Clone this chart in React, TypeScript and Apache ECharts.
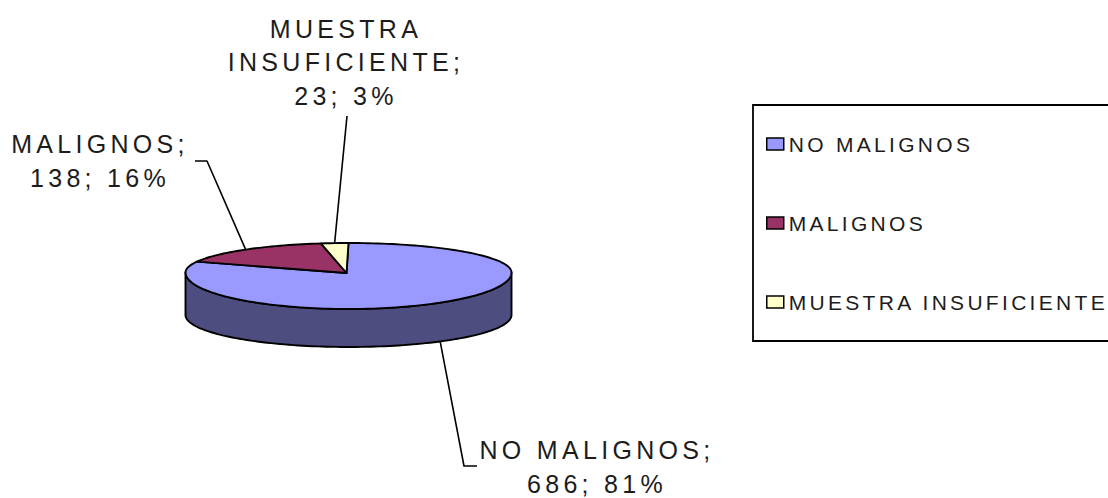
import React, { useEffect, useRef } from "react";
import * as echarts from "echarts";

// Biopsy results shown as a tilted pie with a thick rim.
const categories = ["NO MALIGNOS", "MALIGNOS", "MUESTRA INSUFICIENTE"];
const counts = [686, 138, 23];
const labelHeads = [["NO MALIGNOS;"], ["MALIGNOS;"], ["MUESTRA", "INSUFICIENTE;"]];
const sliceColors = ["#9999ff", "#993366", "#ffffcc"];
const rimColor = "#4d4d80";

const FONT = '"Liberation Sans", Arial, sans-serif';
const INK = "#1c1c1c";
const total = counts.reduce((a, b) => a + b, 0);

// Pie geometry: the upper half of the disc is flatter than the lower half (perspective).
const CX = 348.5;
const RX = 163;
const TOP_Y = 272.5;
const RY_BACK = 29.5;
const RY_FRONT = 36.5;
const RIM_Y = 315;
const RIM_RY = 32;
const APEX: [number, number] = [346.5, 273];

const topPoint = (a: number): [number, number] => {
  const c = Math.cos(a);
  return [CX + RX * Math.sin(a), TOP_Y - c * (c > 0 ? RY_BACK : RY_FRONT)];
};
const rimPoint = (a: number): [number, number] => {
  const c = Math.cos(a);
  return [CX + RX * Math.sin(a), RIM_Y - c * (c > 0 ? 0 : RIM_RY)];
};
const arc = (from: number, to: number, at: (a: number) => [number, number]) => {
  const steps = Math.max(2, Math.ceil(Math.abs(to - from) / 0.03));
  const pts: [number, number][] = [];
  for (let i = 0; i <= steps; i++) pts.push(at(from + ((to - from) * i) / steps));
  return pts;
};

// Where each leader bends and where its label block is centred; the pie end follows the slice's mid angle.
const labelPlacement = [
  { elbow: [[464, 466], [477, 466]], x: 597, y: 467 },
  { elbow: [[207, 161], [195, 161]], x: 100, y: 161 },
  { elbow: [[347, 116]], x: 346, y: 62 },
];

const startAngle = (i: number) =>
  (counts.slice(0, i).reduce((a, b) => a + b, 0) / total) * Math.PI * 2;

const OUTLINE = 1.9;
const lineStyle = { stroke: "#000", lineWidth: 1.6, fill: "none", lineJoin: "round" as const };

const sliceRenderer = (i: number) => (_params: any, api: any) => {
  const from = startAngle(i);
  const to = from + ((api.value(0) as number) / total) * Math.PI * 2;
  const mid = (from + to) / 2;
  const children: any[] = [];

  // Rim: only the part of the slice that faces the viewer.
  const rimFrom = Math.max(from, Math.PI / 2);
  const rimTo = Math.min(to, (Math.PI * 3) / 2);
  if (rimTo > rimFrom) {
    children.push({
      type: "polygon",
      shape: {
        points: [...arc(rimFrom, rimTo, topPoint), ...arc(rimTo, rimFrom, rimPoint)],
      },
      style: { fill: rimColor, stroke: "#000", lineWidth: OUTLINE, lineJoin: "round" },
    });
  }

  children.push({
    type: "polygon",
    shape: { points: [APEX, ...arc(from, to, topPoint)] },
    style: { fill: sliceColors[i], stroke: "#000", lineWidth: OUTLINE, lineJoin: "round" },
  });

  // Leader runs from the slice's outer edge, below the rim when the slice faces front.
  const facesFront = Math.cos(mid) < 0;
  const anchor = facesFront ? rimPoint(mid) : topPoint(mid);
  const place = labelPlacement[i];
  children.push({
    type: "polyline",
    shape: { points: [anchor, ...place.elbow] },
    style: lineStyle,
  });

  const pct = Math.round((counts[i] / total) * 100);
  children.push({
    type: "text",
    style: {
      text: [...labelHeads[i], `${counts[i]}; ${pct}%`].join("\n"),
      x: place.x,
      y: place.y,
      align: "center",
      verticalAlign: "middle",
      fontSize: 25,
      fontFamily: FONT,
      lineHeight: 33.5,
      fill: INK,
    },
  });
  return { type: "group", children };
};

export default function App() {
  const ref = useRef<HTMLDivElement>(null);
  useEffect(() => {
    document.body.style.margin = "0";
    const chart = echarts.init(ref.current!, undefined, { renderer: "svg" });
    chart.setOption({
      animation: false,
      backgroundColor: "#ffffff",
      legend: {
        orient: "vertical",
        left: 766,
        top: 133,
        padding: 0,
        itemWidth: 17,
        itemHeight: 12,
        itemGap: 57,
        icon: "rect",
        selectedMode: false,
        data: categories,
        itemStyle: { borderColor: "#000", borderWidth: 1.5 },
        textStyle: {
          fontSize: 21,
          fontFamily: FONT,
          color: INK,
          lineHeight: 22,
        },
      },
      graphic: [
        {
          type: "rect",
          z: -1,
          shape: { x: 753, y: 105, width: 360, height: 236 },
          style: { fill: "#ffffff", stroke: "#000", lineWidth: 1.8 },
        },
      ],
      series: categories.map((name, i) => ({
        type: "custom",
        name,
        coordinateSystem: "none",
        data: [counts[i]],
        itemStyle: { color: sliceColors[i] },
        renderItem: sliceRenderer(i),
      })),
    });
    return () => chart.dispose();
  }, []);
  return (
    <>
      <style>{`
        .pie-chart text { letter-spacing: 3.3px; }
        .pie-chart text[style*="25px"] { letter-spacing: 4.3px; }
      `}</style>
      <div ref={ref} className="pie-chart" style={{ width: 1108, height: 498 }} />
    </>
  );
}
